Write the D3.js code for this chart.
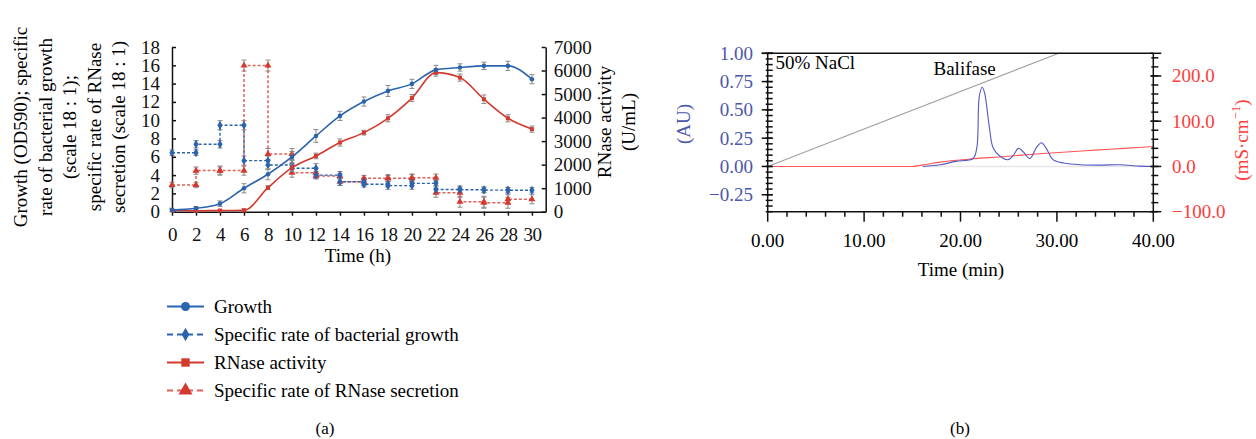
<!DOCTYPE html>
<html>
<head>
<meta charset="utf-8">
<script src="https://cdn.jsdelivr.net/npm/d3@7"></script>
<style>
  body { margin: 0; background: #fff; }
  text { font-family: "Liberation Serif", "DejaVu Serif", serif; }
</style>
</head>
<body>
<div id="chart"></div>
<script>
// ---- panel (a) data ----
const hours = [0, 2, 4, 6, 8, 10, 12, 14, 16, 18, 20, 22, 24, 26, 28, 30];
const growth = [0.18, 0.37, 0.88, 2.56, 4.09, 5.98, 8.28, 10.47, 12.04, 13.2, 13.97, 15.5, 15.76, 15.94, 15.94, 14.48];
const growthErr = [0.2, 0.2, 0.3, 0.5, 0.6, 0.6, 0.7, 0.5, 0.5, 0.6, 0.5, 0.5, 0.4, 0.4, 0.5, 0.5];
const rnase = [60, 40, 50, 60, 1020, 1870, 2370, 2940, 3360, 3970, 4830, 5910, 5700, 4780, 3970, 3510];
const rnaseErr = [40, 40, 40, 60, 80, 150, 120, 150, 100, 150, 150, 150, 150, 180, 150, 130];
// step series: one value per 2 h interval (start hour = hours[i])
const bactRate = [6.45, 7.37, 9.45, 5.58, 5.1, 4.75, 4.0, 3.28, 3.0, 2.85, 3.1, 2.42, 2.4, 2.36, 2.35];
const bactErr = [0.3, 0.4, 0.5, 0.5, 0.5, 0.5, 0.4, 0.4, 0.3, 0.4, 0.3, 0.4, 0.3, 0.3, 0.3];
const secRate = [2.92, 4.49, 4.49, 15.97, 6.31, 4.27, 3.9, 3.28, 3.65, 3.65, 3.72, 2.08, 1.09, 0.98, 1.36];
const secErr = [0.3, 0.4, 0.5, 0.6, 0.6, 0.5, 0.3, 0.4, 0.3, 0.4, 0.4, 0.5, 0.6, 0.6, 0.5];
const leftTicks = [0, 2, 4, 6, 8, 10, 12, 14, 16, 18];
const rightTicks = [0, 1000, 2000, 3000, 4000, 5000, 6000, 7000];
const legendNames = ['Growth', 'Specific rate of bacterial growth', 'RNase activity', 'Specific rate of RNase secretion'];

// ---- panel (b) data ----
const gradTime = [0, 30.2];
const gradAU = [0, 1.0];
const uvTime = [16.1, 17.9, 19.5, 21.3, 21.7, 21.95, 22.26, 22.5, 22.99, 23.4, 24.1, 24.96, 25.5, 26.0, 26.5, 27.2, 27.9, 28.4, 28.9, 29.6, 30.7, 32.4, 34.5, 36.5, 38.6, 40];
const uvAU = [0, 0.015, 0.045, 0.07, 0.17, 0.62, 0.70, 0.65, 0.35, 0.16, 0.09, 0.06, 0.10, 0.16, 0.13, 0.07, 0.17, 0.21, 0.16, 0.06, 0.03, 0.015, 0.012, 0.015, 0.003, 0];
const condTime = [0, 15, 16, 17.9, 21.3, 24, 28.2, 31, 34, 37, 40];
const condVal = [0, 0, 3, 9.5, 17, 21, 28, 32, 36, 40, 44];
const baseRange = [16, 40];
const auTicks = [-0.25, 0, 0.25, 0.5, 0.75, 1.0];
const msTicks = [-100, 0, 100, 200];
const minTicks = [0, 10, 20, 30, 40];

const W = 1256, H = 439;
const blue = '#2b63ad', red = '#d23a30', redLight = '#e0605a', errC = '#8a8a8a';

const svg = d3.select('#chart').append('svg')
  .attr('width', W).attr('height', H)
  .style('display', 'block');
svg.append('rect').attr('width', W).attr('height', H).attr('fill', '#fff');

// ================= panel (a) =================
const x = d3.scaleLinear().domain([0, 31.15]).range([172, 545.7]);
const yL = d3.scaleLinear().domain([0, 18]).range([211.7, 47]);
const yR = d3.scaleLinear().domain([0, 7000]).range([211.7, 47]);

const gA = svg.append('g');

const axL = gA.append('g').attr('transform', 'translate(172,0)')
  .call(d3.axisLeft(yL).tickValues(leftTicks).tickSize(-4).tickSizeOuter(0).tickPadding(12));
const axR = gA.append('g').attr('transform', 'translate(545.7,0)')
  .call(d3.axisRight(yR).tickValues(rightTicks).tickFormat(d3.format('d'))
    .tickSize(-4).tickSizeOuter(0).tickPadding(8));
const axB = gA.append('g').attr('transform', 'translate(0,211.7)')
  .call(d3.axisBottom(x).tickValues(hours).tickSize(4).tickSizeOuter(0).tickPadding(12));
[axL, axR, axB].forEach(a => {
  a.selectAll('text').style('font-size', '19px').attr('fill', '#111')
    .style('font-family', '"Liberation Serif", serif');
  a.selectAll('path,line').attr('stroke', '#111').attr('stroke-width', 1.5);
});
axB.selectAll('text').attr('letter-spacing', '-0.5px');

// axis titles
gA.append('text').attr('x', (x(0) + x(30)) / 2 + 6).attr('y', 262)
  .attr('text-anchor', 'middle').style('font-size', '19px').text('Time (h)');

const leftTitle = ['Growth (OD590); specific', 'rate of bacterial growth', '(scale 18 : 1);', 'specific rate of RNase', 'secretion (scale 18 : 1)'];
const ltG = gA.append('g').attr('transform', 'translate(0,127) rotate(-90)');
leftTitle.forEach((t, i) => {
  ltG.append('text').attr('x', 0).attr('y', 27 + i * 24.5)
    .attr('text-anchor', 'middle').style('font-size', '19px').text(t);
});
const rtG = gA.append('g').attr('transform', 'translate(0,122) rotate(-90)');
['RNase activity', '(U/mL)'].forEach((t, i) => {
  rtG.append('text').attr('x', 0).attr('y', 611 + i * 24)
    .attr('text-anchor', 'middle').style('font-size', '19px').text(t);
});

// helpers
function errBars(g, pts, ys, cap) {
  pts.forEach(p => {
    const y0 = ys(p.v - p.e), y1 = ys(p.v + p.e), cx = x(p.t);
    g.append('line').attr('x1', cx).attr('x2', cx).attr('y1', y0).attr('y2', y1)
      .attr('stroke', errC).attr('stroke-width', 1);
    [y0, y1].forEach(yy => g.append('line').attr('x1', cx - cap).attr('x2', cx + cap)
      .attr('y1', yy).attr('y2', yy).attr('stroke', errC).attr('stroke-width', 1));
  });
}
function marker(g, kind, cx, cy, col, s) {
  if (kind === 'circle') {
    g.append('circle').attr('cx', cx).attr('cy', cy).attr('r', s).attr('fill', col);
  } else {
    const sym = kind === 'diamond' ? d3.symbolDiamond : kind === 'square' ? d3.symbolSquare : d3.symbolTriangle;
    g.append('path').attr('d', d3.symbol(sym, s * s * 4)())
      .attr('transform', `translate(${cx},${cy})`).attr('fill', col);
  }
}
function stepPoints(vals, errs) {
  const pts = [];
  vals.forEach((v, i) => {
    pts.push({ t: hours[i], v: v, e: errs[i] });
    pts.push({ t: hours[i + 1], v: v, e: errs[i] });
  });
  return pts;
}

const plot = gA.append('g');

// step series (dashed)
const bactPts = stepPoints(bactRate, bactErr);
const secPts = stepPoints(secRate, secErr);
errBars(plot, secPts, yL, 2.5);
errBars(plot, bactPts, yL, 2.5);
const stepLine = d3.line().x(d => x(d.t)).y(d => yL(d.v));
plot.append('path').datum(secPts).attr('d', stepLine).attr('fill', 'none')
  .attr('stroke', redLight).attr('stroke-width', 1.5).attr('stroke-dasharray', '3,2');
plot.append('path').datum(bactPts).attr('d', stepLine).attr('fill', 'none')
  .attr('stroke', blue).attr('stroke-width', 1.4).attr('stroke-dasharray', '3,2');
secPts.forEach(p => marker(plot, 'triangle', x(p.t), yL(p.v), red, 2.3));
bactPts.forEach(p => marker(plot, 'diamond', x(p.t), yL(p.v), blue, 2.4));

// smooth series
const gPts = hours.map((t, i) => ({ t: t, v: growth[i], e: growthErr[i] }));
const rPts = hours.map((t, i) => ({ t: t, v: rnase[i], e: rnaseErr[i] }));
errBars(plot, gPts, yL, 2.5);
errBars(plot, rPts, yR, 2.5);
plot.append('path').datum(rPts)
  .attr('d', d3.line().x(d => x(d.t)).y(d => yR(d.v)).curve(d3.curveMonotoneX))
  .attr('fill', 'none').attr('stroke', red).attr('stroke-width', 1.6);
plot.append('path').datum(gPts)
  .attr('d', d3.line().x(d => x(d.t)).y(d => yL(d.v)).curve(d3.curveMonotoneX))
  .attr('fill', 'none').attr('stroke', blue).attr('stroke-width', 1.6);
rPts.forEach(p => marker(plot, 'square', x(p.t), yR(p.v), red, 2.0));
gPts.forEach(p => marker(plot, 'circle', x(p.t), yL(p.v), blue, 2.3));

// legend
const legend = gA.append('g');
const legStyle = [
  { col: blue, dash: null, mk: 'circle', s: 4.5 },
  { col: blue, dash: '6,4', mk: 'diamond', s: 3.6 },
  { col: red, dash: null, mk: 'square', s: 4.2 },
  { col: redLight, dash: '6,4', mk: 'triangle', s: 4.6 }
];
legendNames.forEach((name, i) => {
  const cy = 306.5 + i * 28;
  const st = legStyle[i];
  legend.append('line').attr('x1', 167).attr('x2', 204).attr('y1', cy).attr('y2', cy)
    .attr('stroke', st.col).attr('stroke-width', 2)
    .attr('stroke-dasharray', st.dash);
  marker(legend, st.mk, 185.5, cy, i === 3 ? red : st.col, st.s);
  legend.append('text').attr('x', 214).attr('y', cy + 6.5).style('font-size', '19px').text(name);
});
svg.append('text').attr('x', 325).attr('y', 434).attr('text-anchor', 'middle')
  .style('font-size', '17px').text('(a)');

// ================= panel (b) =================
const xb = d3.scaleLinear().domain([0, 40]).range([767.7, 1153.3]);
const yAU = d3.scaleLinear().domain([-0.4, 1.0]).range([211.7, 53.3]);
const yMS = d3.scaleLinear().domain([-100, 250]).range([211.7, 53.3]);
const auBlue = '#4c56aa', msRed = '#ff3b3b';

const gB = svg.append('g');

// plot contents
gB.append('line').attr('x1', xb(baseRange[0])).attr('x2', xb(baseRange[1]))
  .attr('y1', yAU(0)).attr('y2', yAU(0)).attr('stroke', '#e6e6e6').attr('stroke-width', 1.5);
gB.append('path').datum(gradTime.map((t, i) => [t, gradAU[i]]))
  .attr('d', d3.line().x(d => xb(d[0])).y(d => yAU(d[1])))
  .attr('fill', 'none').attr('stroke', '#a0a0a0').attr('stroke-width', 1.1);
gB.append('path').datum(condTime.map((t, i) => [t, condVal[i]]))
  .attr('d', d3.line().x(d => xb(d[0])).y(d => yMS(d[1])).curve(d3.curveMonotoneX))
  .attr('fill', 'none').attr('stroke', '#ff5555').attr('stroke-width', 1.1);
gB.append('path').datum(uvTime.map((t, i) => [t, uvAU[i]]))
  .attr('d', d3.line().x(d => xb(d[0])).y(d => yAU(d[1])).curve(d3.curveCatmullRom.alpha(0.5)))
  .attr('fill', 'none').attr('stroke', '#5358c2').attr('stroke-width', 1.1);

// frame
gB.append('line').attr('x1', xb(0)).attr('x2', xb(40)).attr('y1', yAU(1.0)).attr('y2', yAU(1.0))
  .attr('stroke', '#111').attr('stroke-width', 1.5);

function ticksV(g, xPos, scale, vals, inLen, outLen, dir) {
  vals.forEach(v => {
    g.append('line').attr('x1', xPos - dir * outLen).attr('x2', xPos + dir * inLen)
      .attr('y1', scale(v)).attr('y2', scale(v)).attr('stroke', '#111').attr('stroke-width', 1.5);
  });
}
// left axis
gB.append('line').attr('x1', xb(0)).attr('x2', xb(0)).attr('y1', yAU(-0.4)).attr('y2', yAU(1.0))
  .attr('stroke', '#111').attr('stroke-width', 1.5);
ticksV(gB, xb(0), yAU, d3.range(-0.4, 1.001, 0.05), 5, 2, 1);
ticksV(gB, xb(0), yAU, auTicks.concat([1.0]), 5, 6, 1);
auTicks.forEach(v => {
  gB.append('text').attr('x', 753).attr('y', yAU(v) + 6.5).attr('text-anchor', 'end')
    .attr('fill', auBlue).style('font-size', '19px')
    .text(v < 0 ? '\u2212' + d3.format('.2f')(-v) : d3.format('.2f')(v));
});
gB.append('g').attr('transform', 'translate(0,124) rotate(-90)')
  .append('text').attr('x', 0).attr('y', 690)
  .attr('text-anchor', 'middle').attr('fill', auBlue).style('font-size', '19px').text('(AU)');

// right axis
gB.append('line').attr('x1', xb(40)).attr('x2', xb(40)).attr('y1', yMS(-100)).attr('y2', yMS(250))
  .attr('stroke', '#111').attr('stroke-width', 1.5);
ticksV(gB, xb(40), yMS, d3.range(-100, 251, 20), 2, 5, -1);
ticksV(gB, xb(40), yMS, msTicks.concat([250]), 3, 8, -1);
msTicks.forEach(v => {
  gB.append('text').attr('x', 1172).attr('y', yMS(v) + 6.5)
    .attr('fill', msRed).style('font-size', '19px')
    .text(v < 0 ? '\u2212' + d3.format('.1f')(-v) : d3.format('.1f')(v));
});
const msLabel = gB.append('g').attr('transform', 'translate(0,140) rotate(-90)')
  .append('text').attr('x', 0).attr('y', 1248)
  .attr('text-anchor', 'middle').attr('fill', msRed).style('font-size', '19px');
msLabel.append('tspan').text('(mS\u00b7cm');
msLabel.append('tspan').attr('dy', -8).style('font-size', '13px').text('\u22121');
msLabel.append('tspan').attr('dy', 8).text(')');

// bottom axis
gB.append('line').attr('x1', xb(0)).attr('x2', xb(40)).attr('y1', yAU(-0.4)).attr('y2', yAU(-0.4))
  .attr('stroke', '#111').attr('stroke-width', 1.5);
d3.range(0, 40.01, 2).forEach(t => {
  const major = t % 10 === 0;
  gB.append('line').attr('x1', xb(t)).attr('x2', xb(t))
    .attr('y1', yAU(-0.4)).attr('y2', yAU(-0.4) + (major ? 10 : 5))
    .attr('stroke', '#111').attr('stroke-width', 1.5);
});
minTicks.forEach(t => {
  gB.append('text').attr('x', xb(t)).attr('y', 247).attr('text-anchor', 'middle')
    .style('font-size', '19px').text(d3.format('.2f')(t));
});
gB.append('text').attr('x', 961).attr('y', 276).attr('text-anchor', 'middle')
  .style('font-size', '19px').text('Time (min)');

// annotations
gB.append('text').attr('x', xb(0.8)).attr('y', 69).style('font-size', '19px').text('50% NaCl');
gB.append('text').attr('x', xb(17.2)).attr('y', 75).style('font-size', '19px').text('Balifase');

svg.append('text').attr('x', 960).attr('y', 434).attr('text-anchor', 'middle')
  .style('font-size', '17px').text('(b)');
</script>
</body>
</html>
